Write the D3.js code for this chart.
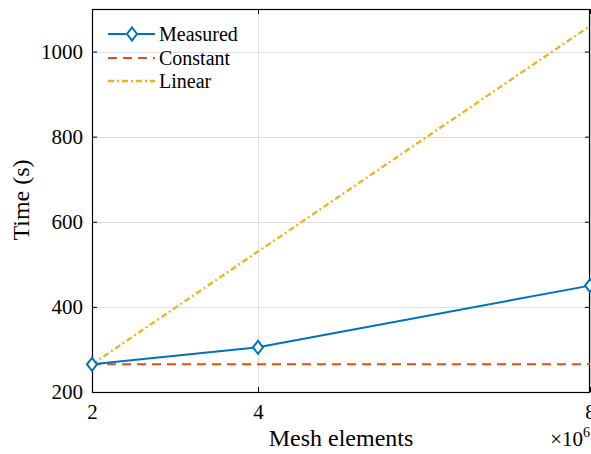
<!DOCTYPE html>
<html><head><meta charset="utf-8">
<script src="https://cdn.jsdelivr.net/npm/d3@7"></script>
<style>body{margin:0;background:#fff;overflow:hidden}svg{display:block}svg text{font-family:"Liberation Serif","Times New Roman",serif !important;fill:#000}</style>
</head><body>
<script>
const meshElements = [2, 4, 8];           // ×10^6
const measured = [265, 305, 450];
const constant = [265, 265, 265];
const linear = [265, 530, 1060];
const xTicks = [2, 4, 8];
const yTicks = [200, 400, 600, 800, 1000];
const seriesNames = ["Measured", "Constant", "Linear"];

const W = 591, H = 454;
const m = {l: 92, r: 590, t: 9, b: 392};
const svg = d3.select("body").append("svg").attr("width", W).attr("height", H);
const x = d3.scaleLinear().domain([2, 8]).range([m.l, m.r]);
const y = d3.scaleLinear().domain([200, 1100]).range([m.b, m.t]);

// grid
const grid = svg.append("g").attr("stroke", "#dfdfdf").attr("stroke-width", 1);
yTicks.forEach(v => grid.append("line").attr("x1", m.l).attr("x2", m.r).attr("y1", Math.round(y(v))+0.5).attr("y2", Math.round(y(v))+0.5));
xTicks.forEach(v => grid.append("line").attr("y1", m.t).attr("y2", m.b).attr("x1", Math.round(x(v))+0.5).attr("x2", Math.round(x(v))+0.5));

// axes
const fs = 21;
const ax = svg.append("g").attr("transform", `translate(0,${m.b})`)
  .call(d3.axisBottom(x).tickValues(xTicks).tickSize(-5).tickPadding(12).tickFormat(d3.format("d")));
const ay = svg.append("g").attr("transform", `translate(${m.l},0)`)
  .call(d3.axisLeft(y).tickValues(yTicks).tickSize(-5).tickPadding(9).tickFormat(d3.format("d")));
const axt = svg.append("g").attr("transform", `translate(0,${m.t})`)
  .call(d3.axisTop(x).tickValues(xTicks).tickSize(-5).tickFormat(""));
const ayr = svg.append("g").attr("transform", `translate(${m.r},0)`)
  .call(d3.axisRight(y).tickValues(yTicks).tickSize(-5).tickFormat(""));
[ax, ay, axt, ayr].forEach(g => {
  g.attr("font-family", null).attr("font-size", null);
  g.select(".domain").remove();
  g.selectAll("line").attr("stroke", "#000").attr("stroke-width", 1);
  g.selectAll("text").style("font-size", fs + "px").attr("fill", "#000");
});
ax.selectAll("text").attr("dy", "0.71em");
svg.append("rect").attr("x", m.l+0.5).attr("y", m.t+0.5).attr("width", m.r-m.l-1).attr("height", m.b-m.t)
  .attr("fill", "none").attr("stroke", "#000").attr("stroke-width", 1.2);

// lines
const colors = ["#0072BD", "#D95319", "#EDB120"];
const dashes = [null, "9,6", "6,3,2,3"];
const widths = [2, 2, 2.3];
const data = [measured, constant, linear];
const line = d3.line().x((d, i) => x(meshElements[i])).y(d => y(d));
[2, 1, 0].forEach(k => {
  svg.append("path").datum(data[k]).attr("d", line).attr("fill", "none")
    .attr("stroke", colors[k]).attr("stroke-width", widths[k]).attr("stroke-dasharray", dashes[k]);
});
const diamond = (cx, cy) => `M${cx},${cy-6.5}L${cx+5},${cy}L${cx},${cy+6.5}L${cx-5},${cy}Z`;
svg.selectAll(".mk").data(measured).enter().append("path")
  .attr("d", (d, i) => diamond(x(meshElements[i]), y(d)))
  .attr("fill", "#fff").attr("stroke", colors[0]).attr("stroke-width", 2);

// legend
const lg = svg.append("g");
[34, 58, 81].forEach((ly, k) => {
  lg.append("line").attr("x1", 108).attr("x2", 155).attr("y1", ly).attr("y2", ly)
    .attr("stroke", colors[k]).attr("stroke-width", widths[k]).attr("stroke-dasharray", dashes[k]);
  if (k === 0) lg.append("path").attr("d", diamond(132, ly)).attr("fill", "#fff").attr("stroke", colors[0]).attr("stroke-width", 2);
  lg.append("text").attr("x", 159).attr("y", ly).attr("dy", "0.35em").style("font-size", "20px").text(seriesNames[k]);
});

// labels
svg.append("text").attr("x", 341).attr("y", 446).attr("text-anchor", "middle").style("font-size", "24px").text("Mesh elements");
svg.append("text").attr("transform", "translate(29,200) rotate(-90)").attr("text-anchor", "middle").style("font-size", "24px").text("Time (s)");
const mult = svg.append("text").attr("x", 590).attr("y", 446).attr("text-anchor", "end").style("font-size", "21px");
mult.append("tspan").text("×10");
mult.append("tspan").attr("dy", -9).style("font-size", "14px").text("6");
</script>
</body></html>
